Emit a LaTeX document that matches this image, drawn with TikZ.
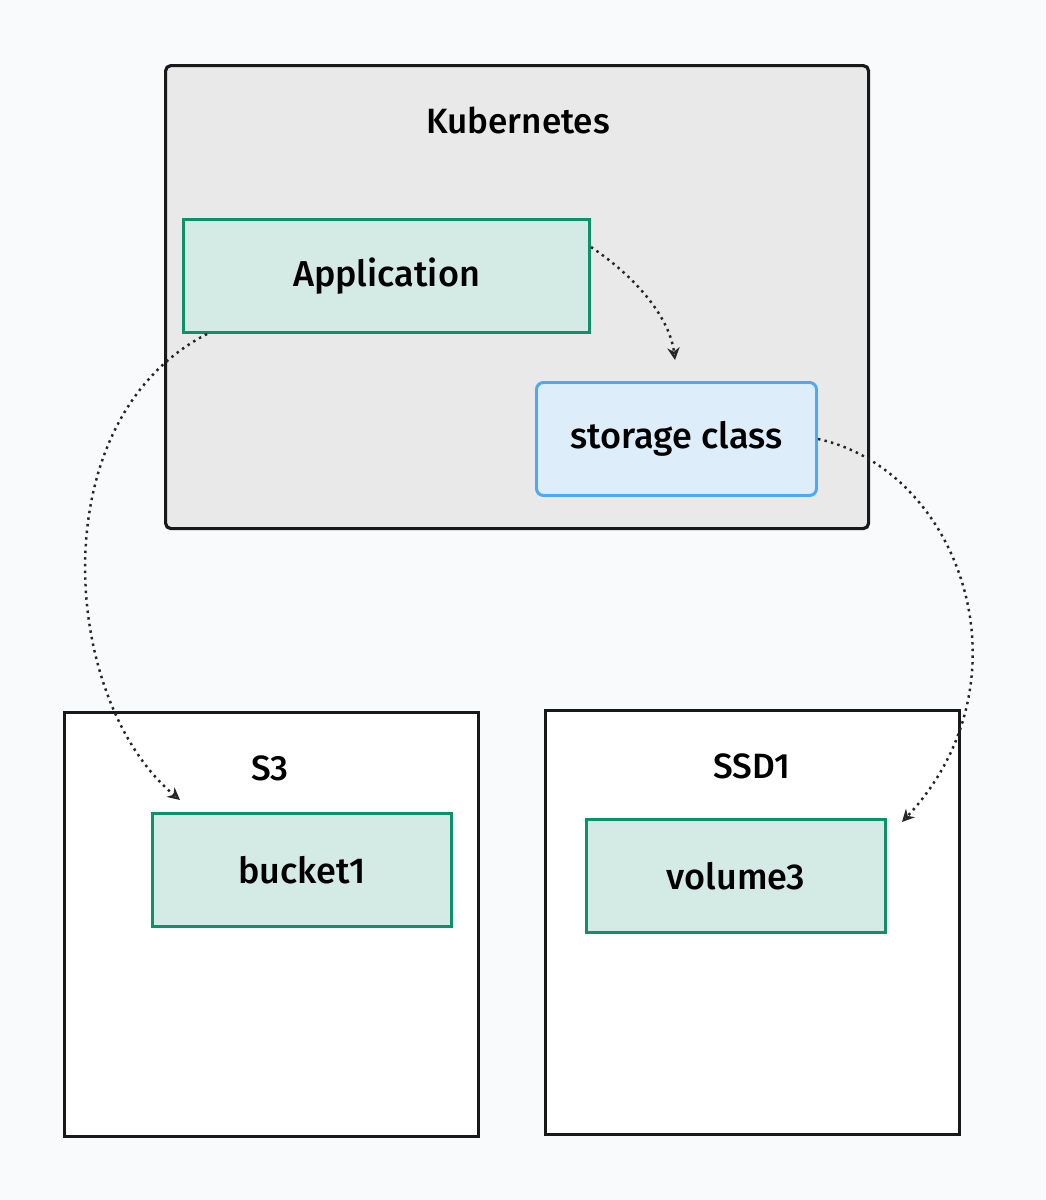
\documentclass[tikz,border=0pt]{standalone}
\usepackage{fontspec}
\setmainfont{Fira Sans}[UprightFont=* Medium]
\usetikzlibrary{positioning, arrows.meta}
\definecolor{bgc}{HTML}{F9FAFC}
\definecolor{kubefill}{HTML}{E9E9E9}
\definecolor{appfill}{HTML}{D4EAE4}
\definecolor{appline}{HTML}{0E9168}
\definecolor{scfill}{HTML}{DDEEFA}
\definecolor{scline}{HTML}{4DA9F5}
\begin{document}
\begin{tikzpicture}[
    x=0.02cm, y=-0.02cm,
    group/.style={rectangle, draw=black!90, line width=1.8pt, fill=white, anchor=north west, inner sep=0pt},
    item/.style={rectangle, draw=appline, line width=1.7pt, fill=appfill, anchor=north west, inner sep=0pt, font=\fontsize{20.5}{24}\selectfont},
    title/.style={font=\fontsize{20}{24}\selectfont},
    link/.style={-{Stealth[open, length=7pt, width=7pt]}, line width=1.4pt, dash pattern=on 1.4pt off 2.4pt, black!85}
]
    \fill[bgc] (0,0) rectangle (1045,1200);

    % Kubernetes
    \node[group, fill=kubefill, rounded corners=3pt, minimum width=703*0.02cm, minimum height=463*0.02cm] (kube) at (164,64) {};
    \node[title] (kubet) at (518,120) {Kubernetes};
    \node[item, minimum width=406*0.02cm, minimum height=113*0.02cm] (app) at (182,218) {Application};
    \node[item, draw=scline, fill=scfill, rounded corners=4pt, minimum width=280*0.02cm, minimum height=113*0.02cm] (sc) at (535,381) {storage class};

    % Storage backends
    \node[group, minimum width=414*0.02cm, minimum height=424*0.02cm] (s3) at (63,711) {};
    \node[title] (s3t) at (270,768) {S3};
    \node[item, minimum width=299*0.02cm, minimum height=113*0.02cm] (bucket) at (151,812) {bucket1};
    \node[group, minimum width=414*0.02cm, minimum height=424*0.02cm] (ssd) at (544,709) {};
    \node[title] (ssdt) at (752,766) {SSD1};
    \node[item, minimum width=299*0.02cm, minimum height=113*0.02cm] (vol) at (585,818) {volume3};

    % Links
    \coordinate (scin) at (675,360);
    \coordinate (bin) at (180,800);
    \coordinate (vin) at (902,822);
    \draw[link] (app.north east) ++(0,29) .. controls (640,280) and (670,320) .. (scin);
    \draw[link] (app.south west) ++(25,0) .. controls (40,420) and (60,700) .. (bin);
    \draw[link] (sc.east) .. controls (960,470) and (1035,680) .. (vin);
\end{tikzpicture}
\end{document}
